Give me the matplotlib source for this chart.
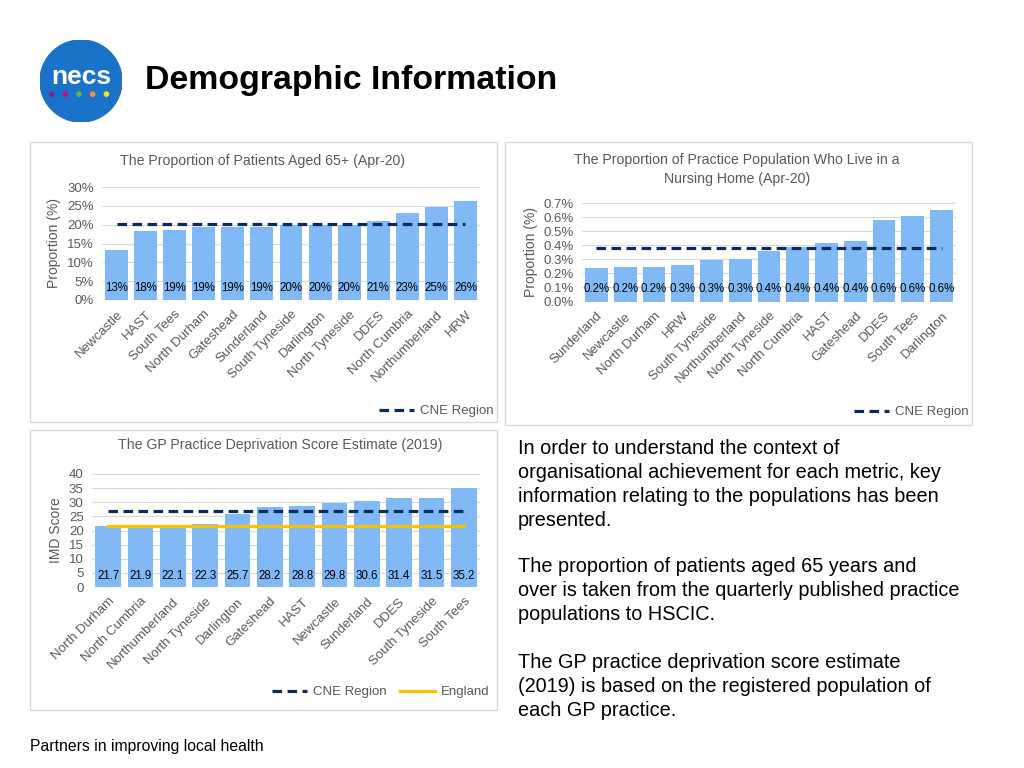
import matplotlib
matplotlib.use("Agg")
import matplotlib.pyplot as plt
from matplotlib.patches import Rectangle, Circle
from matplotlib.lines import Line2D

plt.rcParams['font.family'] = ['Liberation Sans', 'DejaVu Sans']

# ---------------- data ----------------
age_names = ["Newcastle", "HAST", "South Tees", "North Durham", "Gateshead", "Sunderland",
             "South Tyneside", "Darlington", "North Tyneside", "DDES", "North Cumbria",
             "Northumberland", "HRW"]
age_values = [13.2, 18.35, 18.6, 19.3, 19.4, 19.4, 19.8, 20.0, 20.0, 20.9, 23.1, 24.7, 26.4]
age_cne = 20.1

nh_names = ["Sunderland", "Newcastle", "North Durham", "HRW", "South Tyneside", "Northumberland",
            "North Tyneside", "North Cumbria", "HAST", "Gateshead", "DDES", "South Tees", "Darlington"]
nh_values = [0.239, 0.243, 0.246, 0.262, 0.294, 0.303, 0.36, 0.385, 0.413, 0.43, 0.578, 0.606, 0.647]
nh_cne = 0.382

imd_names = ["North Durham", "North Cumbria", "Northumberland", "North Tyneside", "Darlington",
             "Gateshead", "HAST", "Newcastle", "Sunderland", "DDES", "South Tyneside", "South Tees"]
imd_values = [21.7, 21.9, 22.1, 22.3, 25.7, 28.2, 28.8, 29.8, 30.6, 31.4, 31.5, 35.2]
imd_cne = 26.9
imd_england = 21.6

# ---------------- styling ----------------
W, H = 1024, 768
BAR = "#80b9f6"
NAVY = "#0c2a5e"
GOLD = "#ffc000"
GREY = "#595959"
GRID = "#d9d9d9"
DASH = (0, (3, 1.7))

fig = plt.figure(figsize=(W / 100, H / 100), dpi=100)


def rect(x0, y0, x1, y1):
    return [x0 / W, 1 - y1 / H, (x1 - x0) / W, (y1 - y0) / H]


def fx(x):
    return x / W


def fy(y):
    return 1 - y / H


# panel frames
for (x0, y0, x1, y1) in [(30, 142, 497, 422), (505, 142, 972, 425), (30, 430, 497, 710)]:
    fig.add_artist(Rectangle((fx(x0), fy(y1)), fx(x1) - fx(x0), fy(y0) - fy(y1),
                             transform=fig.transFigure, fill=False, edgecolor=GRID, lw=1.0))

# logo
lax = fig.add_axes(rect(40, 40, 122, 122))
lax.set_xlim(0, 1)
lax.set_ylim(0, 1)
lax.axis("off")
lax.add_patch(Circle((0.5, 0.5), 0.5, color="#1a73c9"))
lax.text(0.5, 0.55, "necs", color="white", ha="center", va="center",
         fontsize=19, fontweight="bold")
for i, c in enumerate(["#6b2d90", "#b5168d", "#5cbc46", "#f39332", "#f2e41a"]):
    lax.add_patch(Circle((0.14 + i * 0.1675, 0.34), 0.026, color=c))

fig.text(fx(145), fy(80), "Demographic Information", fontsize=24.4, fontweight="bold",
         ha="left", va="center", color="black")


def bar_chart(box, names, values, ticks, tickfmt, ylabel, lab_fmt, lab_y):
    ax = fig.add_axes(rect(*box))
    x = list(range(len(names)))
    ax.bar(x, values, width=0.79, color=BAR, zorder=2)
    ax.set_xlim(-0.5, len(names) - 0.5)
    ax.set_ylim(ticks[0], ticks[-1])
    ax.set_yticks(ticks)
    ax.set_yticklabels([tickfmt(t) for t in ticks], fontsize=9.5, color=GREY)
    ax.set_xticks(x)
    ax.set_xticklabels(names, rotation=45, ha="right", va="top", rotation_mode="anchor",
                       fontsize=9.5, color=GREY)
    ax.tick_params(length=0, axis="x", pad=6)
    ax.tick_params(length=0, axis="y", pad=6)
    ax.grid(axis="y", color=GRID, lw=0.8, zorder=0)
    for s in ax.spines.values():
        s.set_visible(False)
    ax.set_ylabel(ylabel, fontsize=10, color=GREY, labelpad=4)
    for i, v in enumerate(values):
        ax.text(i, lab_y, lab_fmt(v), ha="center", va="center", fontsize=8.3,
                color="black", transform=ax.get_xaxis_transform(), zorder=4)
    return ax


# ---- top left ----
ax1 = bar_chart((102, 187, 480, 300), age_names, age_values, [0, 5, 10, 15, 20, 25, 30],
                lambda t: f"{t}%", "Proportion (%)", lambda v: f"{v:.0f}%", 0.106)
ax1.plot([0, len(age_values) - 1], [age_cne, age_cne], color=NAVY, lw=2.3, ls=DASH, zorder=3)
fig.text(fx(262), fy(161), "The Proportion of Patients Aged 65+ (Apr-20)", fontsize=10.2,
         color=GREY, ha="center", va="center")
ax1.legend(handles=[Line2D([], [], color=NAVY, lw=2.3, ls=DASH)], labels=["CNE Region"],
           loc="center right", bbox_to_anchor=(fx(499), fy(411)), bbox_transform=fig.transFigure,
           frameon=False, fontsize=9.5, labelcolor=GREY, handlelength=2.6, handletextpad=0.5,
           borderaxespad=0)

# ---- top right ----
nh_ticks = [0.0, 0.1, 0.2, 0.3, 0.4, 0.5, 0.6, 0.7]
ax2 = bar_chart((582, 203, 956, 301.5), nh_names, nh_values, nh_ticks,
                lambda t: f"{t:.1f}%", "Proportion (%)", lambda v: f"{v:.1f}%", 0.129)
ax2.plot([0, len(nh_values) - 1], [nh_cne, nh_cne], color=NAVY, lw=2.3, ls=DASH, zorder=3)
fig.text(fx(737), fy(169.5), "The Proportion of Practice Population Who Live in a\nNursing Home (Apr-20)",
         fontsize=10.2, color=GREY, ha="center", va="center", linespacing=1.4)
ax2.legend(handles=[Line2D([], [], color=NAVY, lw=2.3, ls=DASH)], labels=["CNE Region"],
           loc="center right", bbox_to_anchor=(fx(974), fy(412)), bbox_transform=fig.transFigure,
           frameon=False, fontsize=9.5, labelcolor=GREY, handlelength=2.6, handletextpad=0.5,
           borderaxespad=0)

# ---- bottom left ----
ax3 = bar_chart((92, 474, 480, 587), imd_names, imd_values, [0, 5, 10, 15, 20, 25, 30, 35, 40],
                lambda t: f"{t}", "IMD Score", lambda v: f"{v:.1f}", 0.095)
ax3.plot([0, len(imd_values) - 1], [imd_cne, imd_cne], color=NAVY, lw=2.3, ls=DASH, zorder=3)
ax3.plot([0, len(imd_values) - 1], [imd_england, imd_england], color=GOLD, lw=2.3, zorder=3)
fig.text(fx(280), fy(445), "The GP Practice Deprivation Score Estimate (2019)", fontsize=10.2,
         color=GREY, ha="center", va="center")
ax3.legend(handles=[Line2D([], [], color=NAVY, lw=2.3, ls=DASH), Line2D([], [], color=GOLD, lw=2.3)],
           labels=["CNE Region", "England"], ncol=2,
           loc="center right", bbox_to_anchor=(fx(495), fy(692)), bbox_transform=fig.transFigure,
           frameon=False, fontsize=9.5, labelcolor=GREY, handlelength=2.6, handletextpad=0.5,
           columnspacing=1.0, borderaxespad=0)

# ---- right text ----
lines = [
    (448, "In order to understand the context of"),
    (472, "organisational achievement for each metric, key"),
    (496, "information relating to the populations has been"),
    (520, "presented."),
    (567, "The proportion of patients aged 65 years and"),
    (591, "over is taken from the quarterly published practice"),
    (615, "populations to HSCIC."),
    (663, "The GP practice deprivation score estimate"),
    (687, "(2019) is based on the registered population of"),
    (711, "each GP practice."),
]
for y, t in lines:
    fig.text(fx(518), fy(y), t, fontsize=14.3, color="black", ha="left", va="center")

fig.text(fx(30), fy(747), "Partners in improving local health", fontsize=11.3, color="black",
         ha="left", va="center")

fig.savefig("out.png", dpi=100)
